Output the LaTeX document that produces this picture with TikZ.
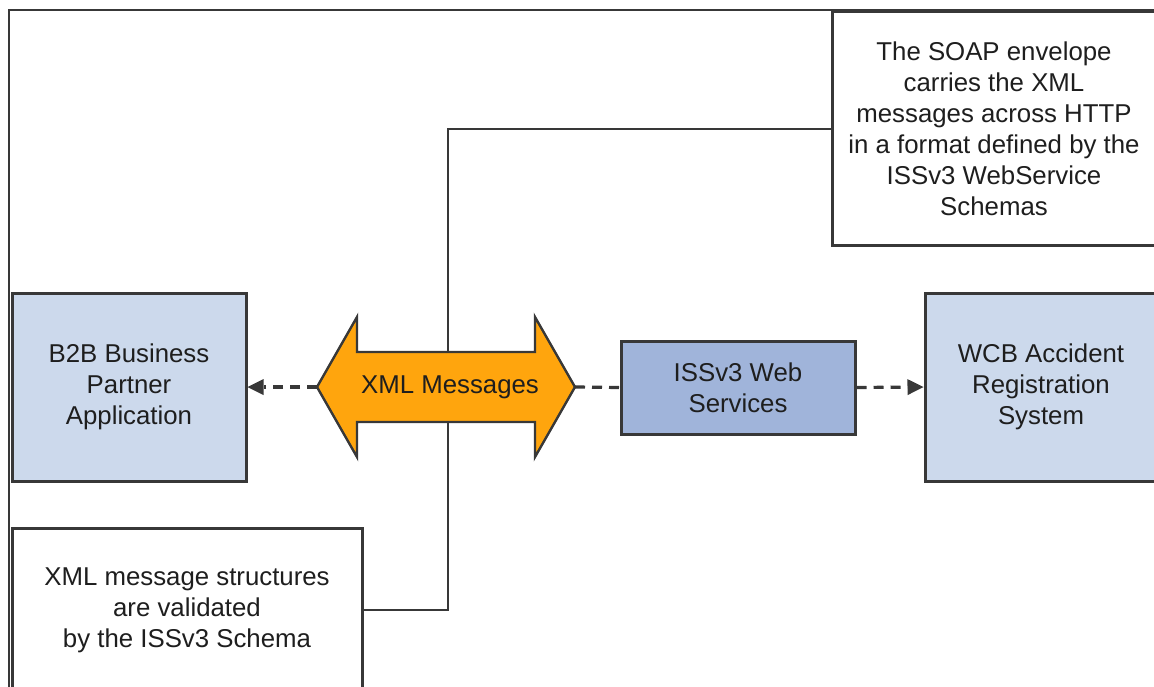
\documentclass[tikz,border=0pt]{standalone}
\usepackage{fontspec}
\setmainfont{Liberation Sans}
\usetikzlibrary{arrows.meta}
\definecolor{boxblue}{HTML}{CCD9EC}
\definecolor{darkblue}{HTML}{A0B4DA}
\definecolor{xmlorange}{HTML}{FFA50D}
\definecolor{edge}{HTML}{383838}
\definecolor{txt}{HTML}{1E1E1E}
\begin{document}
\begin{tikzpicture}[x=1pt,y=-1pt,
  lbl/.style={align=center, inner sep=0pt, text=txt, font=\fontsize{25.8}{31}\selectfont},
  box/.style={lbl, draw=edge, line width=3pt},
  conn/.style={draw=edge, line width=2.6pt},
  dashconn/.style={draw=edge, line width=3.2pt, dash pattern=on 10pt off 7pt},
  dasharrow/.style={dashconn, -{Triangle[length=16pt,width=16pt,line width=0pt]}}]
\useasboundingbox (0,0) rectangle (1154,687);
% frame
\draw[edge, line width=1.2pt] (9,690) -- (9,10) -- (1156,10);
% boxes
\node[box, fill=boxblue, minimum width=234pt, minimum height=188pt] (b2b) at (129,387) {B2B Business\\Partner\\Application};
\node[box, fill=darkblue, minimum width=234pt, minimum height=93pt] (iss) at (738,387.5) {ISSv3 Web\\Services};
\node[box, fill=boxblue, minimum width=232pt, minimum height=188pt] (wcb) at (1041,387) {WCB Accident\\Registration\\System};
\node[box, fill=white, minimum width=324pt, minimum height=234pt] (soap) at (994,129) {The SOAP envelope\\carries the XML\\messages across HTTP\\in a format defined by the\\ISSv3 WebService\\Schemas};
\node[box, fill=white, minimum width=350pt, minimum height=164pt] (val) at (187,610) {XML message structures\\are validated\\by the ISSv3 Schema};
% double arrow
\coordinate (xmlL) at (317,387);
\coordinate (xmlR) at (575,387);
\coordinate (xmltop) at (448,352);
\coordinate (xmlbot) at (448,422);
\draw[edge, fill=xmlorange, line width=2.4pt, line join=miter]
  (xmlL) -- (357,317) -- (357,352) -- (535,352) -- (535,317) -- (xmlR)
  -- (535,457) -- (535,422) -- (357,422) -- (357,457) -- cycle;
\node[lbl] (xml) at (450,387) {XML Messages};
% connectors
\draw[conn] (soap.west) -| (xmltop);
\draw[conn] (xmlbot) |- (val.east);
\draw[dasharrow] (xmlL) -- (b2b.east);
\draw[dashconn] (xmlR) -- (iss.west);
\draw[dasharrow] (iss.east) -- (wcb.west);
\end{tikzpicture}
\end{document}
